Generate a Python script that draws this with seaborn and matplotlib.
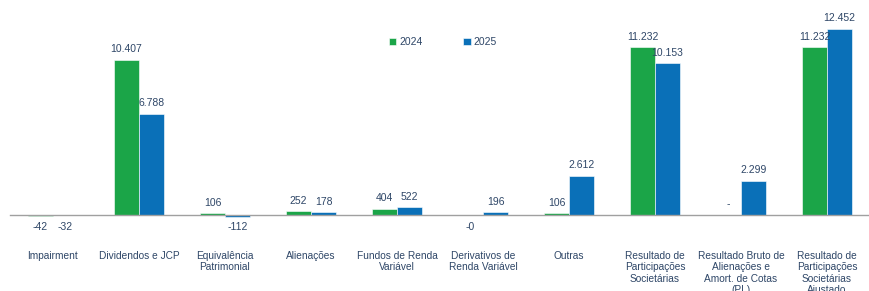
import pandas as pd
import numpy as np
import matplotlib.pyplot as plt
import seaborn as sns

categorias = ['Impairment', 'Dividendos e JCP', 'Equivalência\nPatrimonial', 'Alienações',
              'Fundos de Renda\nVariável', 'Derivativos de\nRenda Variável', 'Outras',
              'Resultado de\nParticipações\nSocietárias',
              'Resultado Bruto de\nAlienações e\nAmort. de Cotas\n(PL)',
              'Resultado de\nParticipações\nSocietárias\nAjustado']
valores_2024 = [-42, 10407, 106, 252, 404, 0, 106, 11232, 0, 11232]
valores_2025 = [-32, 6788, -112, 178, 522, 196, 2612, 10153, 2299, 12452]
rotulos_2024 = ['-42', '10.407', '106', '252', '404', '-0', '106', '11.232', '-', '11.232']
rotulos_2025 = ['-32', '6.788', '-112', '178', '522', '196', '2.612', '10.153', '2.299', '12.452']

verde = '#1BA548'
azul = '#0A70B8'
cor_texto = '#2E4667'

df = pd.DataFrame({
    'cat': categorias * 2,
    'val': valores_2024 + valores_2025,
    'ano': ['2024'] * len(categorias) + ['2025'] * len(categorias),
})

sns.set_style('white')
plt.rcParams['font.family'] = ['Liberation Sans', 'DejaVu Sans']

fig = plt.figure(figsize=(8.7, 2.91), dpi=100)
ax = fig.add_axes([10 / 870, (291 - 240) / 291, 860 / 870, 230 / 291])

sns.barplot(data=df, x='cat', y='val', hue='ano', palette=[verde, azul], width=0.58,
            saturation=1, edgecolor='white', linewidth=0.4, ax=ax)

# escala: 12.452 ocupa ~186 px acima da linha do zero
ppx = 12452 / 186
ax.set_ylim(-(240 - 215) * ppx, (215 - 10) * ppx)
ax.set_xlim(-0.5, 9.42)

for cont, rotulos in zip(ax.containers, [rotulos_2024, rotulos_2025]):
    for barra, txt in zip(cont, rotulos):
        xc = barra.get_x() + barra.get_width() / 2
        v = barra.get_y() + barra.get_height() if barra.get_height() >= 0 else barra.get_y()
        if txt.startswith('-') and len(txt) > 1:
            ax.annotate(txt, (xc, min(v, 0)), xytext=(0, -5), textcoords='offset points',
                        ha='center', va='top', fontsize=7.5, color=cor_texto)
        else:
            ax.annotate(txt, (xc, max(v, 0)), xytext=(0, 4), textcoords='offset points',
                        ha='center', va='bottom', fontsize=7.5, color=cor_texto)

for s in ['top', 'right', 'left']:
    ax.spines[s].set_visible(False)
ax.spines['bottom'].set_position(('data', 0))
ax.spines['bottom'].set_color('#A0A0A0')
ax.spines['bottom'].set_linewidth(1)
ax.set_yticks([])
ax.set_xticks(range(len(categorias)))
ax.set_xticklabels(categorias, fontsize=7.3, color=cor_texto, linespacing=1.15, va='top')
ax.set_xticks(np.arange(-0.5, len(categorias), 1), minor=True)
ax.tick_params(axis='x', which='major', length=0, pad=26)
ax.tick_params(axis='x', which='minor', length=3, width=1, color='#A0A0A0', direction='out')
ax.set_xlabel('')
ax.set_ylabel('')

ax.legend(loc='center', bbox_to_anchor=(443 / 870, 1 - 42 / 291), bbox_transform=fig.transFigure,
          ncol=2, frameon=False, handlelength=0.7, handleheight=0.7, handletextpad=0.3,
          columnspacing=3.9, fontsize=7.5, labelcolor=cor_texto)

fig.savefig('out.png', dpi=100)
